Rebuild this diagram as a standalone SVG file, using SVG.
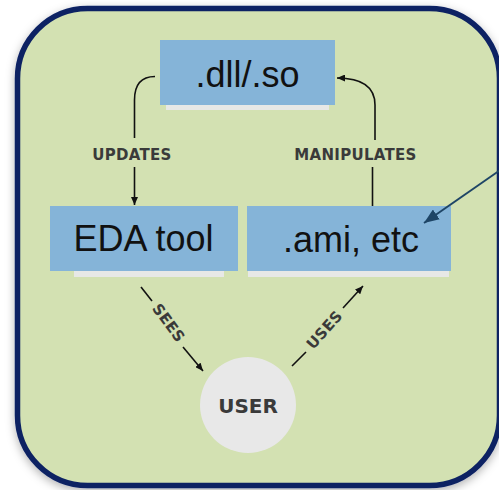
<svg xmlns="http://www.w3.org/2000/svg" width="499" height="490" viewBox="0 0 499 490">
  <style>
    .panel { fill: #d3e1b2; stroke: #0b2263; stroke-width: 5.5; }
    .box { fill: #85b4d8; }
    .boxshade { fill: #e7e8e6; }
    .boxtext { font-family: "Liberation Sans", Arial, sans-serif; font-size: 36px; fill: #111111; text-anchor: middle; }
    .edge { fill: none; stroke: #111111; stroke-width: 1.6; }
    .elabel { font-family: "DejaVu Sans", sans-serif; font-weight: bold; font-size: 15px; letter-spacing: 0.3px; fill: #3a3a3a; text-anchor: middle; }
    .user { fill: #e8e8e8; }
    .usertext { font-family: "DejaVu Sans", sans-serif; font-weight: bold; font-size: 20px; fill: #3a3a3a; text-anchor: middle; }
    .pointer { fill: none; stroke: #1e4566; stroke-width: 2; }
  </style>
  <defs>
    <filter id="panelShadow" x="-10%" y="-10%" width="120%" height="120%">
      <feDropShadow dx="0" dy="3" stdDeviation="5" flood-color="#000000" flood-opacity="0.3"/>
    </filter>
    <marker id="arrow" viewBox="0 0 8 7" markerWidth="8" markerHeight="7" refX="8" refY="3.5" orient="auto" markerUnits="userSpaceOnUse">
      <path d="M0,0 L8,3.5 L0,7 z" fill="#111111"/>
    </marker>
    <marker id="bigArrow" viewBox="0 0 15 12" markerWidth="15" markerHeight="12" refX="15" refY="6" orient="auto" markerUnits="userSpaceOnUse">
      <path d="M0,0 L15,6 L0,12 z" fill="#1e4566"/>
    </marker>
  </defs>

  <!-- background panel -->
  <rect class="panel" x="17.5" y="8.5" width="482" height="477" rx="70" ry="70" filter="url(#panelShadow)"/>

  <!-- nodes -->
  <g id="node-dll">
    <rect class="boxshade" x="166" y="105" width="163" height="5"/>
    <rect class="box" x="160" y="40" width="175" height="65"/>
    <text class="boxtext" x="247.5" y="87">.dll/.so</text>
  </g>

  <g id="node-eda">
    <rect class="boxshade" x="74" y="271" width="150" height="6"/>
    <rect class="box" x="50" y="206" width="188" height="65"/>
    <text class="boxtext" x="143.5" y="251">EDA tool</text>
  </g>

  <g id="node-ami">
    <rect class="boxshade" x="248" y="271" width="201" height="6"/>
    <rect class="box" x="247" y="206" width="204" height="65"/>
    <text class="boxtext" x="351" y="252">.ami, etc</text>
  </g>

  <g id="node-user">
    <circle class="user" cx="248" cy="405" r="48"/>
    <text class="usertext" x="248" y="413">USER</text>
  </g>

  <!-- connectors -->
  <g id="connectors">
    <path class="edge" d="M155,76.5 Q134.5,76.5 134.5,100 V138"/>
    <path class="edge" d="M134.5,167 V205" marker-end="url(#arrow)"/>
    <text class="elabel" x="132" y="160">UPDATES</text>

    <path class="edge" d="M372.5,206 V167"/>
    <path class="edge" d="M375,140 V105 Q375,78 337,78" marker-end="url(#arrow)"/>
    <text class="elabel" x="355.5" y="160">MANIPULATES</text>

    <line class="edge" x1="141" y1="287" x2="152" y2="301"/>
    <line class="edge" x1="183" y1="347" x2="203" y2="371" marker-end="url(#arrow)"/>
    <text class="elabel" transform="translate(168.5,323) rotate(53.6)" x="0" y="5">SEES</text>

    <line class="edge" x1="292" y1="366" x2="306" y2="352"/>
    <line class="edge" x1="343" y1="308" x2="363" y2="286" marker-end="url(#arrow)"/>
    <text class="elabel" transform="translate(324.5,330) rotate(-48.4)" x="0" y="5">USES</text>

    <line class="pointer" x1="506" y1="166" x2="424" y2="223" marker-end="url(#bigArrow)"/>
  </g>
</svg>
